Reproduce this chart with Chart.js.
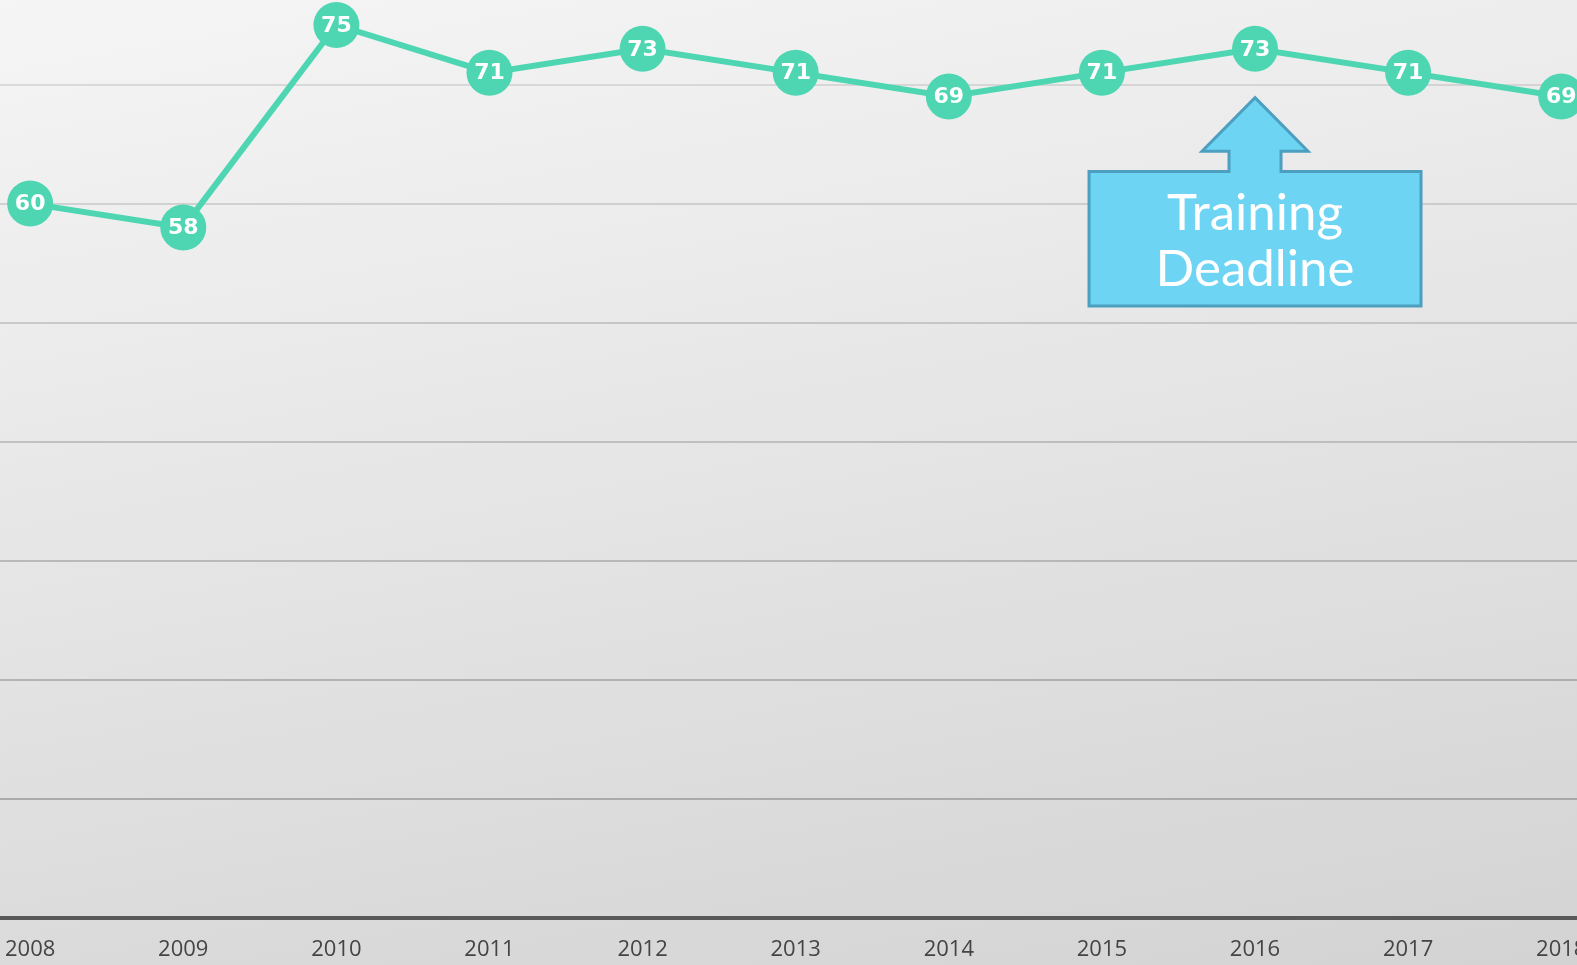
<!DOCTYPE html>
<html>
<head>
<meta charset="utf-8">
<script src="https://cdn.jsdelivr.net/npm/chart.js@4/dist/chart.umd.min.js"></script>
<style>
    html, body { margin: 0; padding: 0; overflow: hidden; }
    body { width: 1577px; height: 965px; background: linear-gradient(170deg, #f5f5f5 0%, #e6e6e6 45%, #d3d3d3 100%); }
    #wrap { position: relative; width: 1577px; height: 965px; }
</style>
</head>
<body>
<div id="wrap"><canvas id="grafico"></canvas></div>
<script>
// data
const anos = [2008, 2009, 2010, 2011, 2012, 2013, 2014, 2015, 2016, 2017, 2018];
const valores = [60, 58, 75, 71, 73, 71, 69, 71, 73, 71, 69];
const textoNota = ["Training", "Deadline"];
const anoNota = 2016;

const verde = 'rgb(78,214,178)';

const rotulosPontos = {
    id: 'rotulosPontos',
    afterDatasetsDraw(chart) {
        const ctx = chart.ctx;
        const meta = chart.getDatasetMeta(0);
        ctx.save();
        ctx.font = 'bold 22px "DejaVu Sans"';
        ctx.fillStyle = '#ffffff';
        ctx.textAlign = 'center';
        ctx.textBaseline = 'middle';
        meta.data.forEach(function (pt, i) {
            ctx.fillText(String(valores[i]), pt.x, pt.y + 1);
        });
        ctx.restore();
    }
};

// seta "Training Deadline" abaixo do ponto de 2016
const nota = {
    id: 'nota',
    afterDatasetsDraw(chart) {
        const ctx = chart.ctx;
        const x = chart.scales.x.getPixelForValue(anoNota);
        const y = chart.scales.y;
        const topo = y.getPixelForValue(68.9);
        const baseSeta = y.getPixelForValue(64.4);
        const topoCaixa = y.getPixelForValue(62.7);
        const fimCaixa = y.getPixelForValue(51.4);
        ctx.save();
        ctx.beginPath();
        ctx.moveTo(x, topo);
        ctx.lineTo(x + 53, baseSeta);
        ctx.lineTo(x + 26, baseSeta);
        ctx.lineTo(x + 26, topoCaixa);
        ctx.lineTo(x + 166, topoCaixa);
        ctx.lineTo(x + 166, fimCaixa);
        ctx.lineTo(x - 166, fimCaixa);
        ctx.lineTo(x - 166, topoCaixa);
        ctx.lineTo(x - 26, topoCaixa);
        ctx.lineTo(x - 26, baseSeta);
        ctx.lineTo(x - 53, baseSeta);
        ctx.closePath();
        ctx.fillStyle = '#6dd5f3';
        ctx.fill();
        ctx.lineWidth = 3;
        ctx.lineJoin = 'miter';
        ctx.strokeStyle = '#4d9fc0';
        ctx.stroke();
        ctx.fillStyle = '#ffffff';
        ctx.font = '51px Lato';
        ctx.textAlign = 'center';
        ctx.textBaseline = 'middle';
        const meio = (topoCaixa + fimCaixa) / 2;
        ctx.fillText(textoNota[0], x, meio - 25);
        ctx.fillText(textoNota[1], x, meio + 31);
        ctx.restore();
    }
};

const ctx = document.getElementById('grafico').getContext('2d');
const graficoLinha = new Chart(ctx, {
    type: 'line',
    data: {
        datasets: [{
            data: anos.map((a, i) => ({ x: a, y: valores[i] })),
            borderColor: verde,
            backgroundColor: verde,
            borderWidth: 6,
            pointRadius: 23,
            pointBorderWidth: 0,
            pointBackgroundColor: verde,
            tension: 0,
            clip: false
        }]
    },
    options: {
        responsive: true,
        maintainAspectRatio: false,
        animation: false,
        layout: { padding: 0, autoPadding: false },
        plugins: { legend: { display: false }, tooltip: { enabled: false } },
        scales: {
            x: {
                type: 'linear',
                min: 2007.803,
                max: 2018.103,
                grid: { display: false, drawTicks: false },
                border: { display: true, color: '#595959', width: 4 },
                ticks: {
                    stepSize: 1,
                    includeBounds: false,
                    autoSkip: false,
                    maxRotation: 0,
                    padding: 19,
                    color: '#444444',
                    font: { family: 'Open Sans', size: 22 },
                    callback: v => String(v)
                },
                afterFit(scale) {
                    scale.paddingLeft = 0;
                    scale.paddingRight = 0;
                    scale.height = 47;
                }
            },
            y: {
                min: 0,
                max: 77.1,
                grid: {
                    drawTicks: false,
                    lineWidth: 2,
                    color: c => 'rgba(120,120,120,' + (0.55 - c.tick.value * 0.005).toFixed(3) + ')'
                },
                border: { display: false },
                ticks: { display: false, stepSize: 10, includeBounds: false }
            }
        }
    },
    plugins: [rotulosPontos, nota]
});
</script>
</body>
</html>
